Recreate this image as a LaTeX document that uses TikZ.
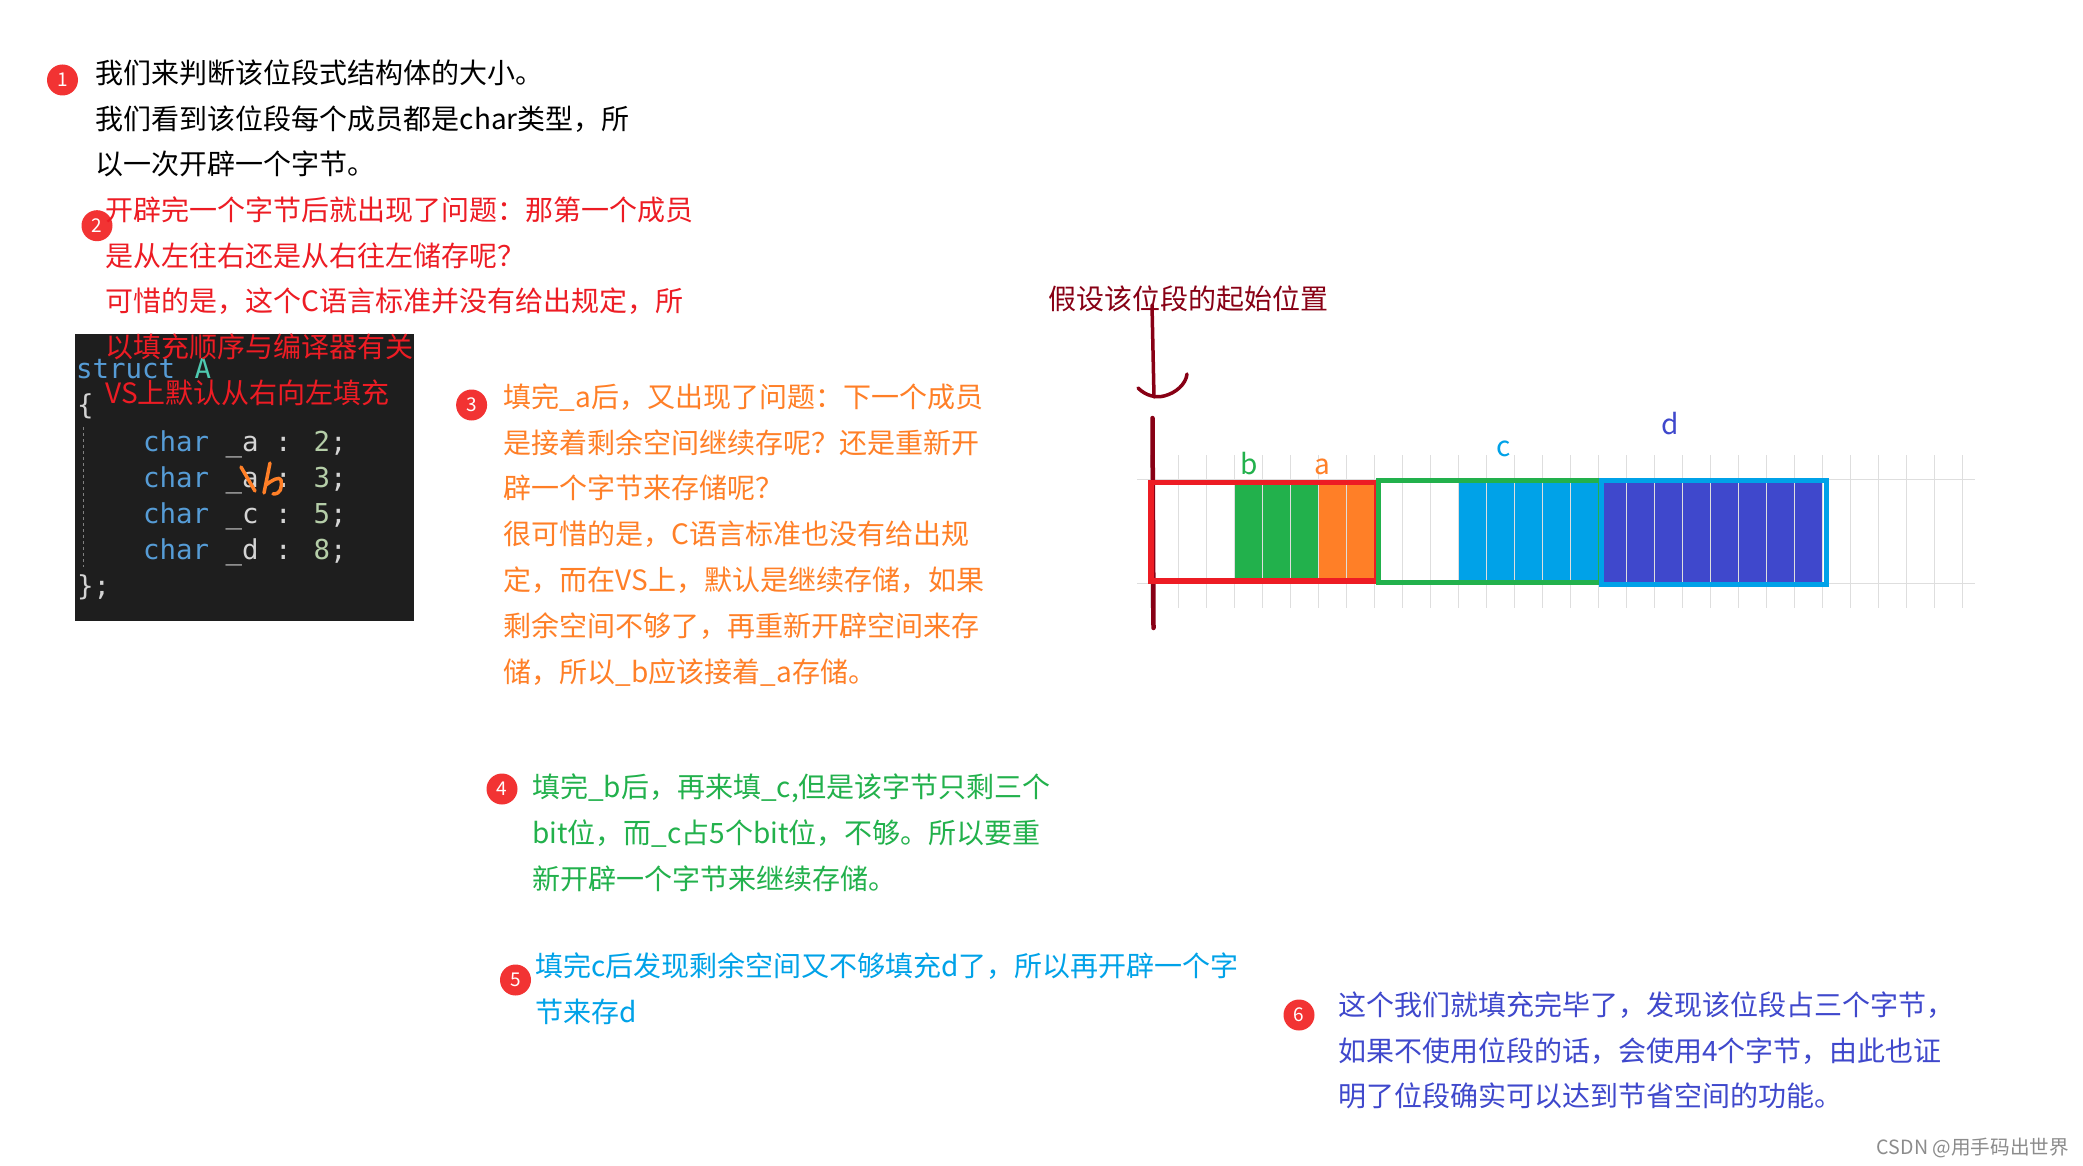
\documentclass[tikz,border=0pt]{standalone}
\usepackage{fontspec}
\usepackage{xcolor}
\setmainfont{Noto Sans CJK SC}
\newfontfamily\codefont{DejaVu Sans Mono}
\definecolor{mkred}{HTML}{ED1C24}
\definecolor{mkorange}{HTML}{FF7F27}
\definecolor{mkgreen}{HTML}{22B14C}
\definecolor{mkcyan}{HTML}{00A2E8}
\definecolor{mkblue}{HTML}{3F48CC}
\definecolor{mkdark}{HTML}{880015}
\definecolor{dotred}{HTML}{F23333}
\definecolor{codebg}{HTML}{1E1E1E}
\definecolor{codekw}{HTML}{569CD6}
\definecolor{codetype}{HTML}{4EC9B0}
\definecolor{codenum}{HTML}{B5CEA8}
\definecolor{codetxt}{HTML}{D4D4D4}
\usetikzlibrary{positioning}

\begin{document}
\begin{tikzpicture}[
    x=1pt, y=-1pt,
    note/.style={anchor=north west, inner sep=0pt, align=left, font=\fontsize{28}{45.9}\selectfont},
    numdot/.style={circle, fill=dotred, text=white, minimum size=31pt, inner sep=0pt, font=\fontsize{19}{19}\selectfont},
    codeline/.style={anchor=base west, inner sep=0pt, text=codetxt, font=\fontsize{27.4}{27.4}\selectfont\codefont},
    bitname/.style={inner sep=0pt, font=\fontsize{28}{28}\selectfont},
    gridline/.style={draw=black!13, line width=1.2pt},
    hand/.style={draw=mkdark, line cap=round, line join=round},
]
\useasboundingbox (0,0) rectangle (2083,1166);
\fill[white] (0,0) rectangle (2083,1166);

% code box
\node[fill=codebg, anchor=north west, inner sep=0pt, minimum width=339pt, minimum height=287pt] (codebox) at (75,334) {};
\node[codeline] (code1) at (76,378) {\textcolor{codekw}{struct} \hspace{3pt}\textcolor{codetype}{A}};
\node[codeline] (code2) at (77,414) {\{};
\node[codeline] (code3) at (143,451) {\textcolor{codekw}{char} \_a : \textcolor{codenum}{2};};
\node[codeline] (code4) at (143,487) {\textcolor{codekw}{char} \_a : \textcolor{codenum}{3};};
\node[codeline] (code5) at (143,523) {\textcolor{codekw}{char} \_c : \textcolor{codenum}{5};};
\node[codeline] (code6) at (143,559) {\textcolor{codekw}{char} \_d : \textcolor{codenum}{8};};
\node[codeline] (code7) at (77,595) {\};};
\draw[gray, line width=1pt, dashed] (83,427) -- (83,567);
\draw[mkorange, line width=3.5pt, line cap=round, line join=round] (241,467) -- (255,491);
\draw[mkorange, line width=3.5pt, line cap=round, line join=round] (270,463) -- (264,493) (266,485) .. controls (272,480) and (280,476) .. (281,480) .. controls (282,488) and (281,494) .. (273,494);

% grid and bits
\fill[mkgreen] (1234.7,483) rectangle (1318.7,581);
\fill[mkcyan] (1459,483) rectangle (1599,581);
\fill[mkblue] (1604,483) rectangle (1822,583);
\foreach \i in {0,...,29} {
    \draw[gridline] ({1150.7+28*\i},455) -- ({1150.7+28*\i},608);
}
\draw[gridline] (1137,479.5) -- (1975,479.5);
\draw[gridline] (1137,583.5) -- (1975,583.5);

% start mark
\draw[hand, line width=4.5pt] (1152.5,418) -- (1153.5,628);
\draw[hand, line width=3.5pt] (1152,305) -- (1154,397);
\draw[hand, line width=3.5pt] (1138,388) .. controls (1146,396) and (1156,398) .. (1164,396) .. controls (1176,393) and (1186,384) .. (1187,374);

% bytes
\draw[mkgreen, line width=5pt] (1378.5,480.5) rectangle (1600,582.5);
\draw[mkred, line width=5.5pt] (1151.2,482.5) rectangle (1373.3,581);
\fill[mkorange] (1318.7,485) rectangle (1374,578.3);
\draw[gridline] (1318.7,485) -- (1318.7,578.3);
\draw[gridline] (1346.7,485) -- (1346.7,578.3);
\draw[mkcyan, line width=5pt] (1601.5,480.5) rectangle (1826.5,584.5);

\node[bitname, text=mkgreen] (bitb) at (1249,464) {b};
\node[bitname, text=mkorange] (bita) at (1322,467) {a};
\node[bitname, text=mkcyan] (bitc) at (1504,449) {c};
\node[bitname, text=mkblue] (bitd) at (1670,424) {d};
\node[note, text=mkdark] (start) at (1048,286) {假设该位段的起始位置};

% steps
\node[numdot] (n1) at (62.5,80) {1};
\node[note] (t1) at (95.6,59.2) {我们来判断该位段式结构体的大小。\\我们看到该位段每个成员都是char类型，所\\以一次开辟一个字节。};
\node[numdot] (n2) at (97,225.7) {2};
\node[note, text=mkred] (t2) at (105,196.2) {开辟完一个字节后就出现了问题：那第一个成员\\是从左往右还是从右往左储存呢？\\可惜的是，这个C语言标准并没有给出规定，所\\以填充顺序与编译器有关\\VS上默认从右向左填充};
\node[numdot] (n3) at (471.6,405) {3};
\node[note, text=mkorange] (t3) at (503.5,383.2) {填完\_a后，又出现了问题：下一个成员\\是接着剩余空间继续存呢？还是重新开\\辟一个字节来存储呢？\\很可惜的是，C语言标准也没有给出规\\定，而在VS上，默认是继续存储，如果\\剩余空间不够了，再重新开辟空间来存\\储，所以\_b应该接着\_a存储。};
\node[numdot] (n4) at (502,789) {4};
\node[note, text=mkgreen] (t4) at (532,773.8) {填完\_b后，再来填\_c,但是该字节只剩三个\\bit位，而\_c占5个bit位，不够。所以要重\\新开辟一个字节来继续存储。};
\node[numdot] (n5) at (515.5,980) {5};
\node[note, text=mkcyan] (t5) at (535,952.6) {填完c后发现剩余空间又不够填充d了，所以再开辟一个字\\节来存d};
\node[numdot] (n6) at (1299,1015) {6};
\node[note, text=mkblue] (t6) at (1338,991.2) {这个我们就填充完毕了，发现该位段占三个字节，\\如果不使用位段的话，会使用4个字节，由此也证\\明了位段确实可以达到节省空间的功能。};

\node[anchor=east, inner sep=0pt, text=black!45, font=\fontsize{19.6}{19.6}\selectfont] (mark) at (2069,1148) {CSDN @用手码出世界};
\end{tikzpicture}
\end{document}
